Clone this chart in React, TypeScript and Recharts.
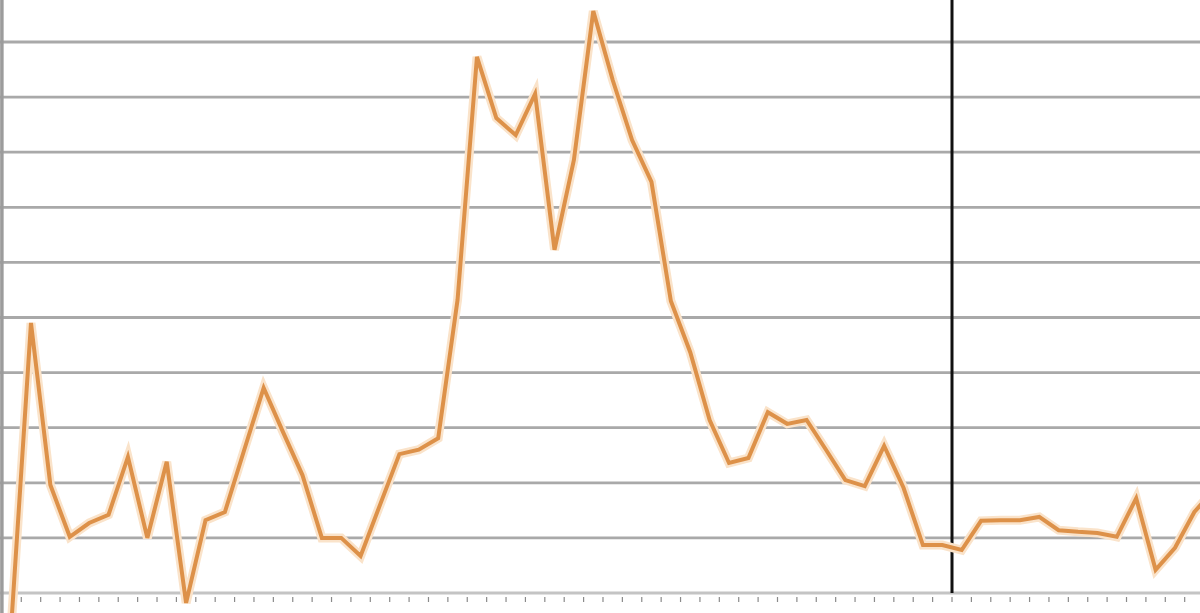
import React from 'react';
import { ComposedChart, Line, Scatter, XAxis, YAxis, ReferenceLine } from 'recharts';

// weekly readings (one grid step = 10)
const readings = [
  -4.9, 49.0, 19.6, 10.2, 12.7, 14.2, 24.7, 10.0, 23.8, -1.8,
  13.2, 14.7, 26.0, 37.2, 29.2, 21.4, 10.0, 10.0, 6.7, 16.0,
  25.2, 26.0, 28.1, 53.2, 97.3, 86.2, 83.1, 90.6, 62.3, 78.6,
  105.6, 93.1, 82.2, 74.6, 53.0, 43.7, 31.4, 23.6, 24.5, 32.8,
  30.7, 31.4, 26.0, 20.5, 19.4, 26.7, 19.1, 8.7, 8.7, 7.8,
  13.1, 13.2, 13.2, 13.8, 11.4, 11.1, 10.9, 10.2, 17.2, 4.2,
  8.2, 14.7, 18.7,
];

const gridValues = [0, 10, 20, 30, 40, 50, 60, 70, 80, 90, 100];
const markerAt = 48.5; // vertical divider, between weeks 48 and 49

const C = {
  line: '#dd9149',
  glow: '#fae3ca',
  grid: '#a9a9a9',
  base: '#c4c4c4',
  axis: '#9c9c9c',
  tick: '#8a8a8a',
  marker: '#111111',
} as const;

const rows = readings.map((v, i) => ({ idx: i, value: v }));
const tickRows = readings.map((_, i) => ({ idx: i + 0.5, base: 0 }));

const TickMark = (props: any) => {
  const { cx, cy } = props;
  if (cx == null || cy == null) return null;
  return <line x1={cx} x2={cx} y1={cy + 4} y2={cy + 9} stroke={C.tick} strokeWidth={1.2} />;
};

export default function App() {
  return (
    <div style={{ position: 'absolute', left: 0, top: 0, width: 1200, height: 613, overflow: 'hidden', background: '#ffffff' }}>
      <ComposedChart width={1200} height={613} data={rows} margin={{ top: 0, right: 0, bottom: 0, left: 0 }}>
        <XAxis type="number" dataKey="idx" domain={[-0.598, 61.29]} allowDataOverflow hide />
        <YAxis type="number" domain={[-3.63, 107.62]} allowDataOverflow hide />

        {gridValues.map((g) => (
          <ReferenceLine key={g} y={g} stroke={g === 0 ? C.base : C.grid} strokeWidth={2.8} />
        ))}

        <ReferenceLine x={-0.5} stroke={C.axis} strokeWidth={3.5} />
        <ReferenceLine
          segment={[{ x: markerAt, y: 0 }, { x: markerAt, y: 107.62 }]}
          stroke={C.marker}
          strokeWidth={3}
        />

        <Scatter data={tickRows} dataKey="base" shape={<TickMark />} isAnimationActive={false} />

        <Line
          type="linear"
          dataKey="value"
          stroke={C.glow}
          strokeWidth={9}
          dot={false}
          activeDot={false}
          isAnimationActive={false}
        />
        <Line
          type="linear"
          dataKey="value"
          stroke={C.line}
          strokeWidth={4}
          dot={false}
          activeDot={false}
          isAnimationActive={false}
        />
      </ComposedChart>
    </div>
  );
}
